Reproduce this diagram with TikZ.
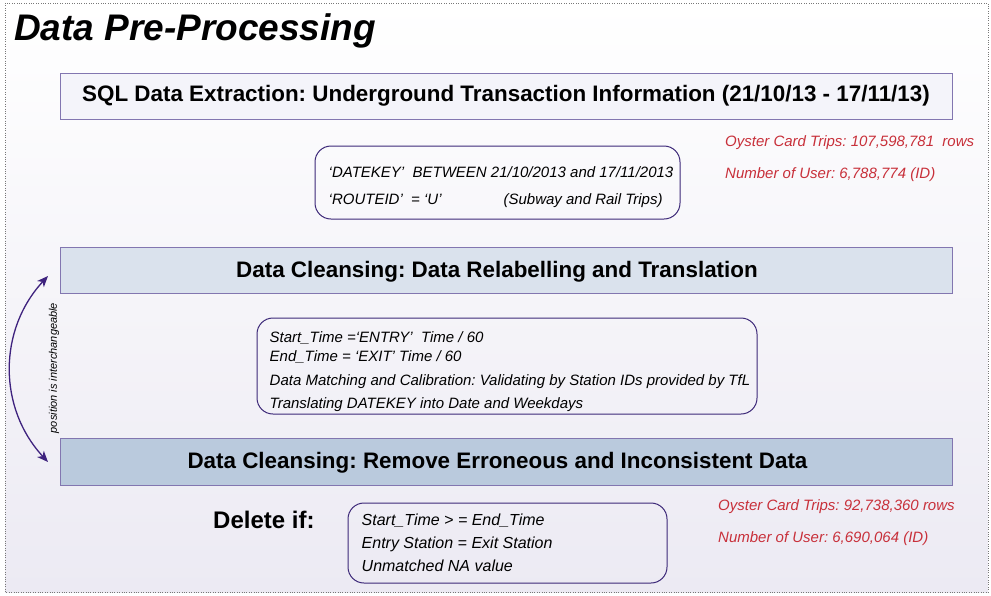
\documentclass[tikz,border=0pt]{standalone}
\usepackage{fontspec}
\setmainfont{Liberation Sans}
\usetikzlibrary{positioning,arrows.meta}
\frenchspacing

\definecolor{framegray}{RGB}{120,120,120}
\definecolor{stepline}{RGB}{130,118,176}
\definecolor{roundline}{RGB}{60,40,120}
\definecolor{arrowpurple}{RGB}{62,34,126}
\definecolor{countred}{RGB}{200,48,58}
\definecolor{fillone}{RGB}{244,244,250}
\definecolor{filltwo}{RGB}{218,226,237}
\definecolor{fillthree}{RGB}{186,202,221}
\definecolor{bgbottom}{RGB}{236,234,243}

\tikzset{
  stagebox/.style={draw=stepline, line width=0.8pt, minimum width=892pt, minimum height=46pt, inner sep=0pt, font=\fontsize{22.4}{25}\selectfont\bfseries},
  rulebox/.style={draw=roundline, line width=1pt, rounded corners=16pt, inner sep=0pt},
  ruletext/.style={anchor=west, align=left, inner sep=0pt, font=\fontsize{15}{27}\selectfont\itshape},
  counttext/.style={anchor=base west, inner sep=0pt, text=countred, font=\fontsize{15}{18}\selectfont\itshape}
}

\begin{document}
\begin{tikzpicture}[x=1pt,y=-1pt]
\useasboundingbox (0,0) rectangle (991,595);
\shade[top color=white, bottom color=bgbottom] (5,3) rectangle (988,592);
\draw[dotted, framegray] (5,3) rectangle (988,592);

\node (title) [anchor=base west, inner sep=0pt, font=\fontsize{37}{40}\selectfont\bfseries\itshape] at (14,40) {Data Pre-Processing};

% stages
\node (sql) [stagebox, fill=fillone] at (506,96) {SQL Data Extraction: Underground Transaction Information (21/10/13 - 17/11/13)};
\node (relabel) [stagebox, fill=filltwo, text depth=1pt] at (506,270) {Data Cleansing: Data Relabelling and Translation\hspace*{18pt}};
\node (remove) [stagebox, fill=fillthree, minimum height=47pt, text depth=1.5pt] at (506,461.5) {Data Cleansing: Remove Erroneous and Inconsistent Data\hspace*{17pt}};

% conditions
\node (sqlbox) [rulebox, minimum width=365pt, minimum height=73pt] at (497.5,182.5) {};
\node (sqltxt) [ruletext, right=14pt of sqlbox.west, yshift=-5pt] {`DATEKEY'\ \ BETWEEN 21/10/2013 and 17/11/2013\\
`ROUTEID'\ \ = `U'\hspace{62pt}(Subway and Rail Trips)};

\node (relbox) [rulebox, minimum width=500pt, minimum height=96pt] at (507,366) {};
\node (reltxt) [ruletext, font=\fontsize{15}{22}\selectfont\itshape, right=13pt of relbox.west, yshift=-6pt] {Start\_Time =`ENTRY'\ \ Time / 60\\[-3pt]
End\_Time = `EXIT' Time / 60\\[2pt]
Data Matching and Calibration: Validating by Station IDs provided by TfL\\[1pt]
Translating DATEKEY into Date and Weekdays};

\node (delete) [anchor=base west, inner sep=0pt, font=\fontsize{24}{27}\selectfont\bfseries] at (213,528) {Delete if:};
\node (delbox) [rulebox, minimum width=319pt, minimum height=80pt] at (507.5,543) {};
\node (deltxt) [ruletext, font=\fontsize{16}{23}\selectfont\itshape, right=14pt of delbox.west] {Start\_Time > = End\_Time\\
Entry Station = Exit Station\\
Unmatched NA value};

% counts
\node (tripsA) [counttext] at (725,146) {Oyster Card Trips: 107,598,781\ \ rows};
\node (usersA) [counttext] at (725,178) {Number of User: 6,788,774 (ID)};
\node (tripsB) [counttext] at (718,510) {Oyster Card Trips: 92,738,360 rows};
\node (usersB) [counttext] at (718,542) {Number of User: 6,690,064 (ID)};

% swap arrow
\coordinate (swaptop) at (48,276);
\coordinate (swapbot) at (48,462);
\draw[{Stealth[length=11pt,width=9pt,inset=3pt]}-{Stealth[length=11pt,width=9pt,inset=3pt]}, arrowpurple, line width=1.3pt] (swaptop) .. controls (-2,330) and (-2,408) .. (swapbot);
\node (swaplabel) [rotate=90, inner sep=0pt, font=\fontsize{11}{13}\selectfont\itshape] at (54,368) {position is interchangeable};

\end{tikzpicture}
\end{document}
